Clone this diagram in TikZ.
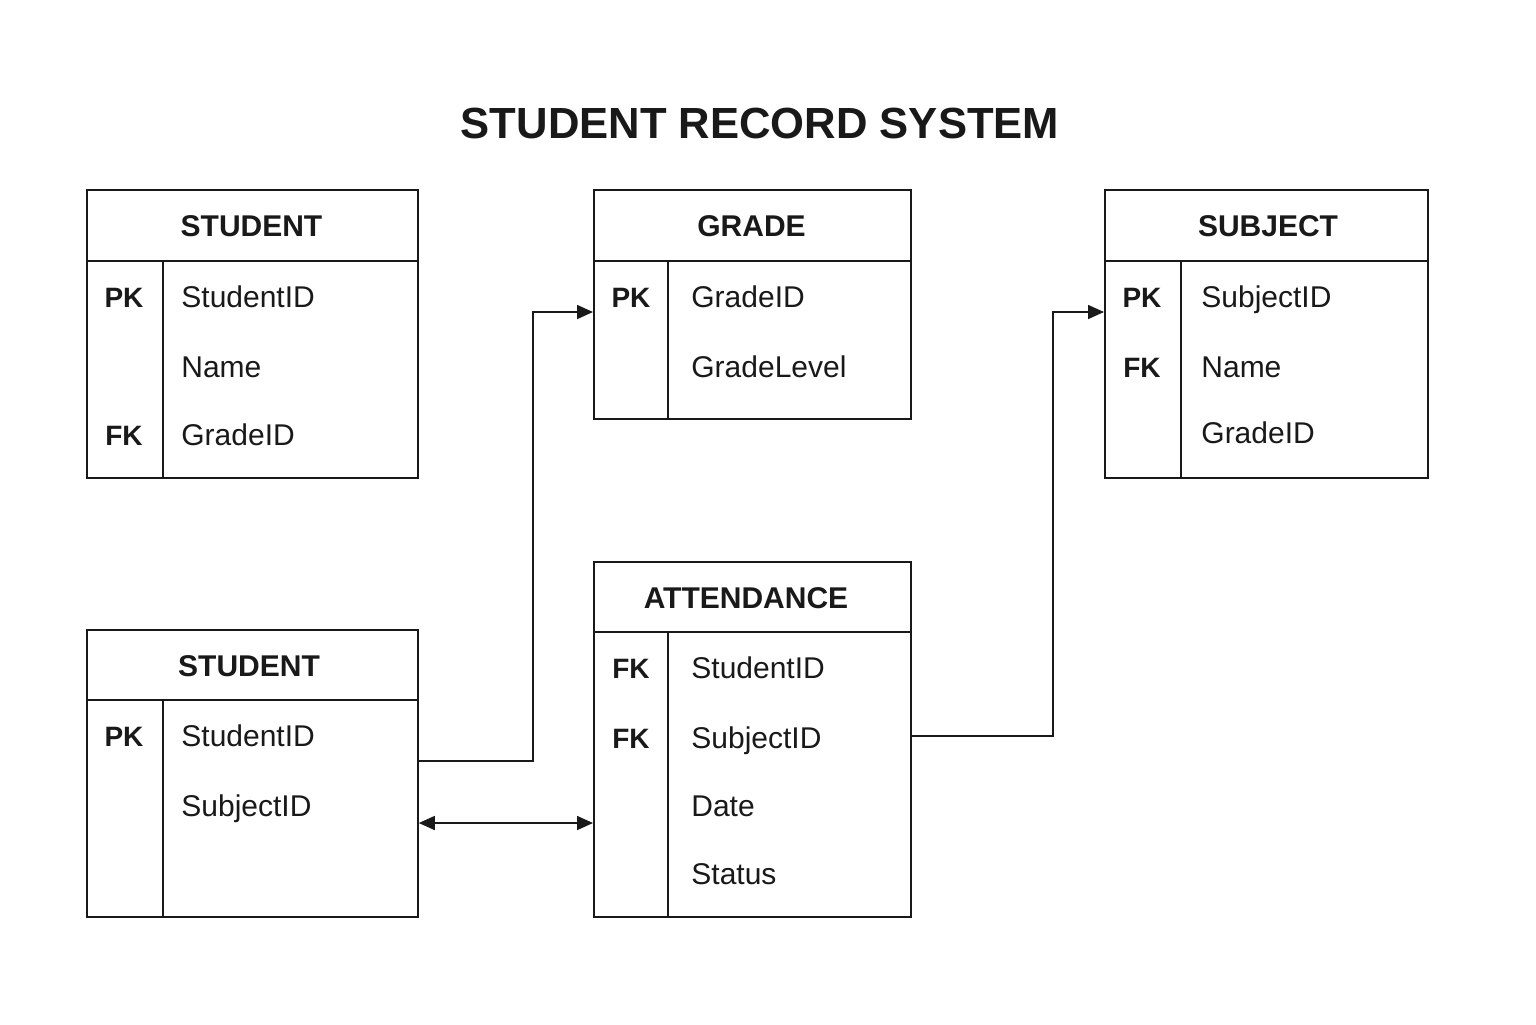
\documentclass[tikz,border=0pt]{standalone}
\usepackage{fontspec}
\setmainfont{Liberation Sans}
\usetikzlibrary{arrows.meta}
\begin{document}
\begin{tikzpicture}[x=0.5pt,y=-0.5pt,
  frame/.style={draw=black!90, line width=0.9pt, anchor=north west, inner sep=0pt},
  rule/.style={draw=black!90, line width=0.9pt},
  head/.style={anchor=base, inner sep=0pt, font=\fontsize{15}{18}\selectfont\bfseries, text=black!90},
  key/.style={anchor=base, inner sep=0pt, font=\fontsize{14}{17}\selectfont\bfseries, text=black!90},
  field/.style={anchor=base west, inner sep=0pt, font=\fontsize{15}{18}\selectfont, text=black!90},
  tip/.style={Triangle[length=8pt,width=7pt]},
  link/.style={draw=black!90, line width=0.8pt, -{Triangle[length=8pt,width=7pt]}},
  biglink/.style={draw=black!90, line width=0.8pt, {Triangle[length=8pt,width=7pt]}-{Triangle[length=8pt,width=7pt]}}]
\useasboundingbox (0,0) rectangle (1536,1024);
\fill[white] (0,0) rectangle (1536,1024);

% title
\node[anchor=base, inner sep=0pt, font=\fontsize{21.8}{26}\selectfont\bfseries, text=black!90] (title) at (760,138) {STUDENT RECORD SYSTEM};

% STUDENT (top)
\node[frame, minimum width=165.5pt, minimum height=144pt] (stu1) at (86,189) {};
\draw[rule] (86,261) -- (417,261) (163,261) -- (163,477);
\node[head] (stu1h) at (251.5,236) {STUDENT};
\node[key] (stu1k1) at (124,307) {PK};
\node[field] (stu1f1) at (181,307) {StudentID};
\node[field] (stu1f2) at (181,377) {Name};
\node[key] (stu1k3) at (124,445) {FK};
\node[field] (stu1f3) at (181,445) {GradeID};

% GRADE
\node[frame, minimum width=158.5pt, minimum height=114.5pt] (grade) at (593,189) {};
\draw[rule] (593,261) -- (910,261) (668,261) -- (668,418);
\node[head] (gradeh) at (751.5,236) {GRADE};
\node[key] (gradek1) at (631,307) {PK};
\node[field] (gradef1) at (691,307) {GradeID};
\node[field] (gradef2) at (691,377) {GradeLevel};

% SUBJECT
\node[frame, minimum width=161.5pt, minimum height=144pt] (subj) at (1104,189) {};
\draw[rule] (1104,261) -- (1427,261) (1181,261) -- (1181,477);
\node[head] (subjh) at (1268,236) {SUBJECT};
\node[key] (subjk1) at (1142,307) {PK};
\node[field] (subjf1) at (1201,307) {SubjectID};
\node[key] (subjk2) at (1142,377) {FK};
\node[field] (subjf2) at (1201,377) {Name};
\node[field] (subjf3) at (1201,443) {GradeID};

% STUDENT (bottom)
\node[frame, minimum width=165.5pt, minimum height=143.5pt] (stu2) at (86,629) {};
\draw[rule] (86,700) -- (417,700) (163,700) -- (163,916);
\node[head] (stu2h) at (249,676) {STUDENT};
\node[key] (stu2k1) at (124,746) {PK};
\node[field] (stu2f1) at (181,746) {StudentID};
\node[field] (stu2f2) at (181,816) {SubjectID};

% ATTENDANCE
\node[frame, minimum width=158.5pt, minimum height=177.5pt] (att) at (593,561) {};
\draw[rule] (593,632) -- (910,632) (668,632) -- (668,916);
\node[head] (atth) at (746,608) {ATTENDANCE};
\node[key] (attk1) at (631,678) {FK};
\node[field] (attf1) at (691,678) {StudentID};
\node[key] (attk2) at (631,748) {FK};
\node[field] (attf2) at (691,748) {SubjectID};
\node[field] (attf3) at (691,816) {Date};
\node[field] (attf4) at (691,884) {Status};

% relationships
\coordinate (s2out) at (stu2.east |- 0,761);
\coordinate (gin) at (grade.west |- 0,312);
\draw[link] (s2out) -| (533,312) -- (gin);

\coordinate (s2mid) at (stu2.east |- 0,823);
\coordinate (amid) at (att.west |- 0,823);
\draw[biglink] (s2mid) -- (amid);

\coordinate (aout) at (att.east |- 0,736);
\coordinate (sin) at (subj.west |- 0,312);
\draw[link] (aout) -| (1053,312) -- (sin);
\end{tikzpicture}
\end{document}
